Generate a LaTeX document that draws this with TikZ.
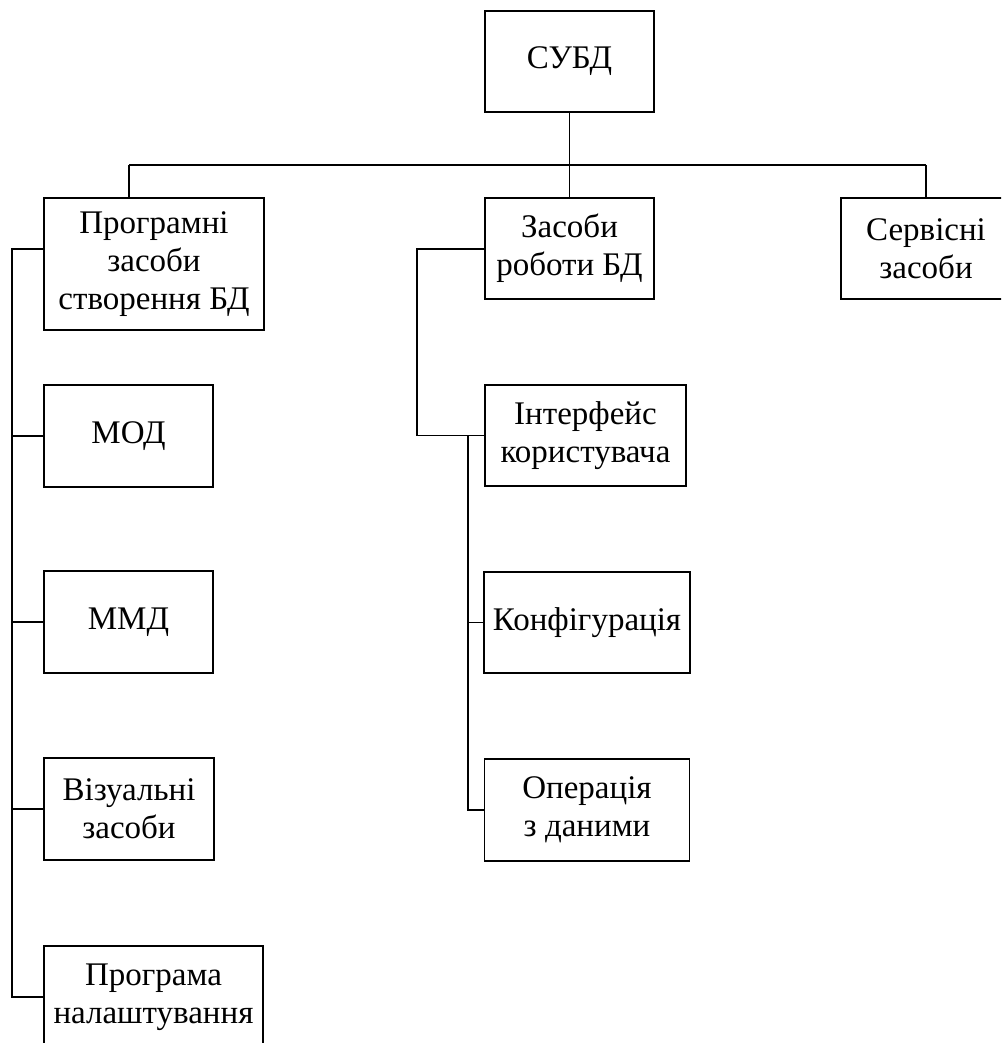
\documentclass[tikz,border=0pt]{standalone}
\usepackage{fontspec}
\setmainfont{Liberation Serif}
\begin{document}
\begin{tikzpicture}[x=1pt, y=-1pt,
  box/.style={draw, line width=1.9pt, align=center, inner sep=0pt,
    font=\fontsize{33}{38}\selectfont},
  link/.style={line width=1.9pt}]
\clip (0,0) rectangle (1001,1043);
\useasboundingbox (0,0) rectangle (1001,1043);

% top level
\node[box, minimum width=169pt, minimum height=101pt] (subd) at (569.5,61.5) {СУБД};

% second level
\node[box, minimum width=220pt, minimum height=132pt] (prog) at (154,264) {Програмні\\засоби\\створення БД};
\node[box, minimum width=169pt, minimum height=101pt] (zas) at (569.5,248.5) {Засоби\\роботи БД};
\node[box, minimum width=170pt, minimum height=101pt] (serv) at (926,248.5) {Сервісні\\засоби};

% children of the creation tools
\node[box, minimum width=169pt, minimum height=102pt] (mod) at (128.5,436) {МОД};
\node[box, minimum width=169pt, minimum height=102pt] (mmd) at (128.5,622) {ММД};
\node[box, minimum width=170pt, minimum height=102pt] (viz) at (129,809) {Візуальні\\засоби};
\node[box, minimum width=219pt, minimum height=102pt] (nal) at (153.5,997) {Програма\\налаштування};

% children of the DB tools
\node[box, minimum width=201pt, minimum height=101pt] (int) at (585.5,435.5) {Інтерфейс\\користувача};
\node[box, minimum width=206pt, minimum height=101pt] (conf) at (587,622.5) {Конфігурація};
\node[box, minimum width=205pt, minimum height=102pt] (oper) at (587,810) {Операція\\з даними};

% bus under the root
\coordinate (busL) at (129,165);
\coordinate (busR) at (926,165);
\draw[link] (subd.south) -- (zas.north);
\draw[link] (busL) -- (busR);
\draw[link] (busL) -- (busL |- prog.north);
\draw[link] (busR) -- (serv.north);

% left branch
\coordinate (lt) at (12,249);
\coordinate (lb) at (12,997);
\draw[link] (prog.west |- lt) -- (lt) -- (lb) -- (nal.west);
\draw[link] (lt |- mod.west) -- (mod.west);
\draw[link] (lt |- mmd.west) -- (mmd.west);
\draw[link] (lt |- viz.west) -- (viz.west);

% middle branch
\coordinate (mt) at (417,249);
\coordinate (mt2) at (468,435.5);
\draw[link] (zas.west |- mt) -- (mt) -- (mt |- int.west) -- (int.west);
\draw[link] (mt2) -- (mt2 |- oper.west) -- (oper.west);
\draw[link] (mt2 |- conf.west) -- (conf.west);
\end{tikzpicture}
\end{document}
